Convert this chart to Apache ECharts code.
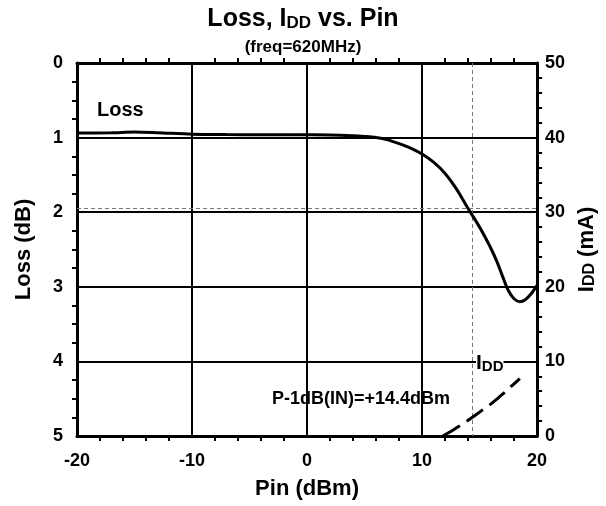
<!DOCTYPE html>
<html><head><meta charset="utf-8">
<script src="https://cdn.jsdelivr.net/npm/echarts@6/dist/echarts.min.js"></script>
<style>html,body{margin:0;padding:0;background:#fff}#c{width:606px;height:506px}</style>
</head><body><div id="c"></div>
<script>
// Loss (dB) vs Pin (dBm)
const lossPin = [-20, -17, -15, -13, -10, -7, -4, -1, 2, 4, 5, 6, 7, 8, 9, 10, 11, 12, 13, 14, 15, 15.5, 16, 16.5, 17, 17.5, 18, 18.5, 19, 19.5, 20];
const lossVal = [0.94, 0.935, 0.925, 0.935, 0.955, 0.96, 0.962, 0.963, 0.965, 0.975, 0.985, 1.0, 1.03, 1.08, 1.14, 1.22, 1.33, 1.48, 1.69, 1.95, 2.20, 2.34, 2.49, 2.66, 2.86, 3.05, 3.16, 3.20, 3.17, 3.09, 2.98];
// IDD (mA) vs Pin (dBm)
const iddPin = [11.8, 12.5, 13, 13.5, 14, 14.5, 15, 15.5, 16, 16.5, 17, 17.5, 18, 18.5];
const iddVal = [0.0, 0.6, 1.1, 1.6, 2.1, 2.65, 3.2, 3.75, 4.3, 4.95, 5.6, 6.3, 7.0, 7.7];
// Reference lines
const p1dbPin = 14.4;
const p1dbLoss = 1.95;
// Axis ranges / ticks
const xRange = [-20, 20, 10];
const lossRange = [0, 5, 1];
const iddRange = [0, 50, 10];

const FONT = 'Liberation Sans, Arial, sans-serif';
const lossData = lossPin.map((p, i) => [p, lossVal[i]]);
const iddData = iddPin.map((p, i) => [p, iddVal[i]]);

const chart = echarts.init(document.getElementById('c'), null, {renderer: 'canvas'});
const axisLine = {show: true, onZero: false, lineStyle: {color: '#000', width: 3}};
const label = {color: '#000', fontFamily: FONT, fontWeight: 'bold', fontSize: 18};
const nameStyle = {color: '#000', fontFamily: FONT, fontWeight: 'bold', fontSize: 22,
  rich: {s: {fontFamily: FONT, fontWeight: 'bold', fontSize: 16, color: '#000', verticalAlign: 'bottom'},
         b: {fontFamily: FONT, fontWeight: 'bold', fontSize: 22, color: '#000'}}};

chart.setOption({
  animation: false,
  backgroundColor: '#fff',
  title: [
    {text: '{b|Loss, I}{s|DD}{b| vs. Pin}', left: 'center', top: 2,
     textStyle: {rich: {b: {fontFamily: FONT, fontWeight: 'bold', fontSize: 25, color: '#000'},
                        s: {fontFamily: FONT, fontWeight: 'bold', fontSize: 17, color: '#000', verticalAlign: 'bottom'}}}},
    {text: '(freq=620MHz)', left: 'center', top: 34,
     textStyle: {fontFamily: FONT, fontWeight: 'bold', fontSize: 17, color: '#000'}}
  ],
  grid: {left: 77, right: 68, top: 63, bottom: 70, show: false},
  xAxis: [
    {type: 'value', min: xRange[0], max: xRange[1], interval: xRange[2], position: 'bottom',
     name: 'Pin (dBm)', nameLocation: 'middle', nameGap: 42, nameTextStyle: nameStyle,
     axisLine: axisLine, axisTick: {show: false},
     minorTick: {show: true, splitNumber: 5, length: 5, lineStyle: {color: '#000', width: 2}},
     axisLabel: Object.assign({margin: 16}, label),
     splitLine: {show: true, lineStyle: {color: '#000', width: 2}}},
    {type: 'value', min: xRange[0], max: xRange[1], interval: xRange[2], position: 'top',
     axisLine: axisLine, axisTick: {show: false}, axisLabel: {show: false},
     minorTick: {show: true, splitNumber: 5, length: 5, lineStyle: {color: '#000', width: 2}},
     splitLine: {show: false}}
  ],
  yAxis: [
    {type: 'value', min: lossRange[0], max: lossRange[1], interval: lossRange[2], inverse: true, position: 'left',
     name: 'Loss (dB)', nameLocation: 'middle', nameGap: 42, nameRotate: 90, nameTextStyle: nameStyle,
     axisLine: axisLine, axisTick: {show: false},
     minorTick: {show: true, splitNumber: 4, length: 5, lineStyle: {color: '#000', width: 2}},
     axisLabel: Object.assign({margin: 14}, label),
     splitLine: {show: true, lineStyle: {color: '#000', width: 2}}},
    {type: 'value', min: iddRange[0], max: iddRange[1], interval: iddRange[2], position: 'right',
     name: '{b|I}{s|DD}{b| (mA)}', nameLocation: 'middle', nameGap: 31, nameRotate: 90, nameTextStyle: nameStyle,
     axisLine: axisLine, axisTick: {show: false},
     minorTick: {show: true, splitNumber: 5, length: 5, lineStyle: {color: '#000', width: 2}},
     axisLabel: Object.assign({margin: 8}, label),
     splitLine: {show: false}}
  ],
  series: [
    {type: 'line', name: 'Loss', xAxisIndex: 0, yAxisIndex: 0, data: lossData, smooth: 0.3,
     showSymbol: false, symbol: 'none', lineStyle: {color: '#000', width: 3}, z: 5,
     markLine: {silent: true, symbol: 'none', label: {show: false},
       lineStyle: {color: '#777', width: 1, type: [4, 3]},
       data: [{xAxis: p1dbPin}, {yAxis: p1dbLoss}]}},
    {type: 'line', name: 'IDD', xAxisIndex: 0, yAxisIndex: 1, data: iddData, smooth: 0.3,
     showSymbol: false, symbol: 'none', lineStyle: {color: '#000', width: 3, type: [20, 8]}, z: 5}
  ],
  graphic: [
    {type: 'text', left: 97, top: 100, style: {text: 'Loss', fontFamily: FONT, fontWeight: 'bold', fontSize: 20, fill: '#000'}},
    {type: 'text', left: 272, top: 390, style: {text: 'P-1dB(IN)=+14.4dBm', fontFamily: FONT, fontWeight: 'bold', fontSize: 18, fill: '#000'}},
    {type: 'text', left: 476, top: 353, z: 10, style: {text: '{b|I}{s|DD}', fill: '#000',
      rich: {b: {fontFamily: FONT, fontWeight: 'bold', fontSize: 21, fill: '#000', backgroundColor: '#fff'},
             s: {fontFamily: FONT, fontWeight: 'bold', fontSize: 15, fill: '#000', verticalAlign: 'bottom', backgroundColor: '#fff'}}}}
  ]
});
</script></body></html>
